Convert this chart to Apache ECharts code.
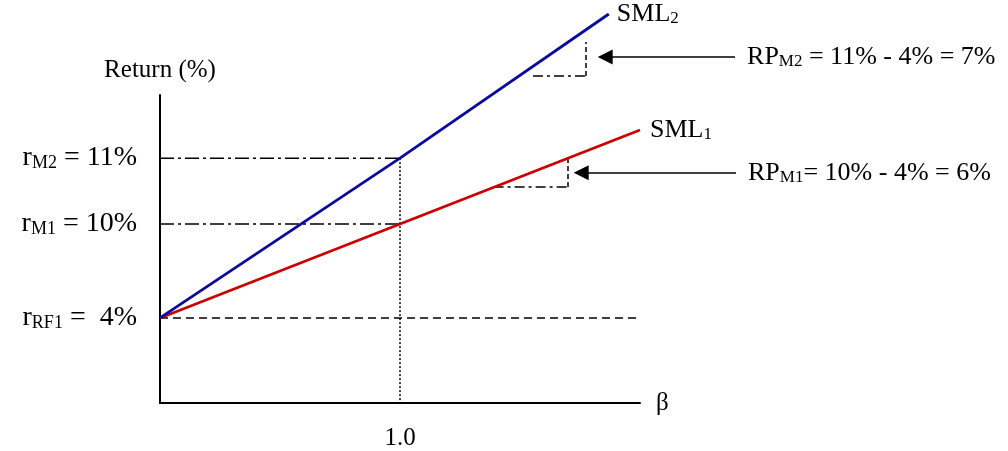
<!DOCTYPE html>
<html>
<head>
<meta charset="utf-8">
<script src="https://cdn.jsdelivr.net/npm/echarts@6/dist/echarts.min.js"></script>
<style>
html,body{margin:0;padding:0;background:#fff;}
#chart{width:1008px;height:451px;}
</style>
</head>
<body>
<div id="chart"></div>
<script>
// ---- data (schematic diagram, not drawn to scale) ----
const betaTickValues = [1.0];
const betaTickLabels = ['1.0'];
const returnLevels = [4, 10, 14.2];           // plotted levels on the schematic axis
const returnLabels = ['r{s|RF1} =  4%', 'r{s|M1} = 10%', 'r{s|M2} = 11%'];
const sml1 = [[0, 4], [1, 10], [2, 16]];
const sml2 = [[0, 4], [1, 14.2], [1.87, 23.4]];
const rfLine = [[0, 4], [2, 4]];
const m1Guide = [[0, 10], [1, 10]];
const m2Guide = [[0, 14.2], [1, 14.2]];
const betaOneGuide = [[1, 14.2], [1, -1.43]];
const rp1Run = [[1.39, 12.36], [1.7, 12.36]];
const rp1Rise = [[1.7, 12.36], [1.7, 14.2]];
const rp2Run = [[1.554, 19.45], [1.775, 19.45]];
const rp2Rise = [[1.775, 19.45], [1.775, 21.62]];
const rp1Arrow = [[2.4, 13.26], [1.755, 13.26]];
const rp2Arrow = [[2.396, 20.66], [1.855, 20.66]];
const rp1Text = 'RP{s|M1}= 10% - 4% = 6%';
const rp2Text = 'RP{s|M2} = 11% - 4% = 7%';

const FONT = '"Liberation Serif", "Times New Roman", serif';
const sub = (size) => ({ fontSize: size, fontFamily: FONT, color: '#000', verticalAlign: 'bottom', lineHeight: size });

const chart = echarts.init(document.getElementById('chart'), null, { renderer: 'canvas' });

function guide(data, type, width) {
  return {
    type: 'line', data: data, symbol: 'none', clip: false, silent: true,
    lineStyle: { color: '#000', width: width || 1.5, type: type }, z: 2
  };
}

chart.setOption({
  animation: false,
  backgroundColor: '#fff',
  grid: { left: 160, right: 368, top: 95, bottom: 48, containLabel: false },
  xAxis: {
    type: 'value', min: 0, max: 2,
    name: 'β', nameLocation: 'end', nameGap: 16,
    nameTextStyle: { fontFamily: FONT, fontSize: 25, color: '#000' },
    axisLine: { show: true, onZero: false, lineStyle: { color: '#000', width: 2 } },
    axisTick: { show: false },
    splitLine: { show: false },
    axisLabel: {
      customValues: betaTickValues,
      formatter: (v) => betaTickLabels[betaTickValues.indexOf(v)] || '',
      fontFamily: FONT, fontSize: 25, color: '#000', margin: 23
    }
  },
  yAxis: {
    type: 'value', min: -1.43, max: 18.23,
    name: 'Return (%)', nameLocation: 'end', nameGap: 12,
    nameTextStyle: { fontFamily: FONT, fontSize: 25, color: '#000' },
    axisLine: { show: true, onZero: false, lineStyle: { color: '#000', width: 2 } },
    axisTick: { show: false },
    splitLine: { show: false },
    axisLabel: {
      customValues: returnLevels,
      formatter: (v) => returnLabels[returnLevels.indexOf(v)] || '',
      fontFamily: FONT, fontSize: 28, color: '#000', margin: 23,
      rich: { s: sub(18) }
    }
  },
  series: [
    guide(m2Guide, [14, 4, 3, 4]),
    guide(m1Guide, [14, 4, 3, 4]),
    guide(betaOneGuide, [2, 2]),
    guide(rfLine, [8, 5]),
    guide(rp1Run, [10, 4, 3, 4]),
    guide(rp1Rise, [5, 3]),
    guide(rp2Run, [10, 4, 3, 4]),
    guide(rp2Rise, [5, 3]),
    {
      type: 'line', name: 'SML1', data: sml1, symbol: 'none', clip: false, z: 5,
      lineStyle: { color: '#cc0000', width: 2.8 },
      endLabel: {
        show: true, formatter: 'SML{s|1}', distance: 10,
        fontFamily: FONT, fontSize: 26, color: '#000', rich: { s: sub(17) }
      }
    },
    {
      type: 'line', name: 'SML2', data: sml2, symbol: 'none', clip: false, z: 5,
      lineStyle: { color: '#0a0a9e', width: 2.8 },
      endLabel: {
        show: true, formatter: 'SML{s|2}', distance: 8,
        fontFamily: FONT, fontSize: 26, color: '#000', rich: { s: sub(17) }
      }
    },
    {
      type: 'lines', coordinateSystem: 'cartesian2d', clip: false, silent: true, z: 4,
      symbol: ['none', 'triangle'], symbolSize: [17, 15],
      lineStyle: { color: '#000', width: 1.5, opacity: 1 },
      label: {
        show: true, position: 'start', distance: 12,
        fontFamily: FONT, fontSize: 26, color: '#000', rich: { s: sub(17) }
      },
      data: [
        { coords: rp2Arrow, label: { formatter: rp2Text } },
        { coords: rp1Arrow, label: { formatter: rp1Text } }
      ]
    }
  ]
});
</script>
</body>
</html>
